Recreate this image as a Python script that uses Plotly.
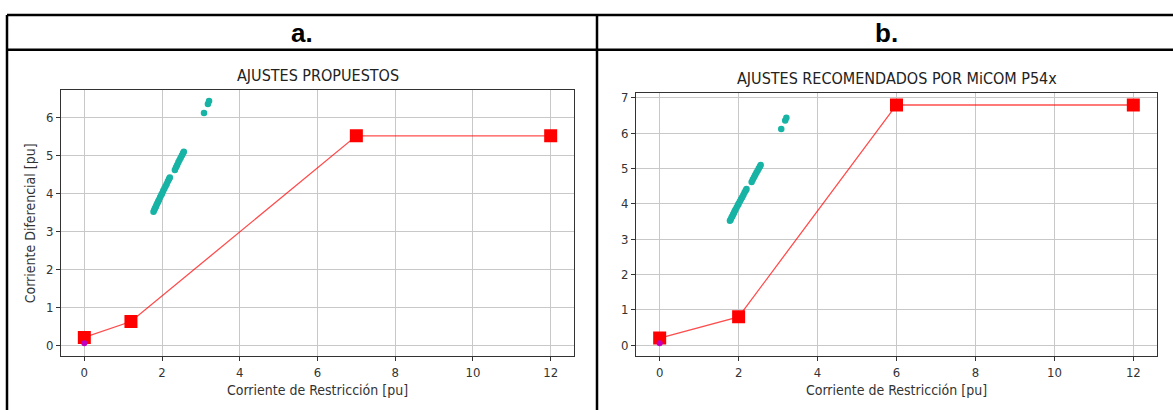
import plotly.graph_objects as go

W, H = 1173, 410

# ---- data ----
teal_x = [1.78, 1.80, 1.82, 1.84, 1.86, 1.88, 1.90, 1.92, 1.95, 1.98, 2.00, 2.03, 2.06, 2.09,
          2.12, 2.15, 2.18, 2.20,
          2.33, 2.36, 2.39, 2.42, 2.45, 2.48, 2.51, 2.54, 2.56,
          3.08, 3.18, 3.21]
teal_y = [3.52, 3.56, 3.61, 3.65, 3.70, 3.74, 3.79, 3.83, 3.90, 3.96, 4.00, 4.07, 4.13, 4.19,
          4.25, 4.32, 4.38, 4.42,
          4.62, 4.69, 4.75, 4.82, 4.88, 4.94, 5.00, 5.06, 5.10,
          6.12, 6.36, 6.44]
origin_x = [0]
origin_y = [0.05]

a_curve_x = [0, 1.2, 7, 12]
a_curve_y = [0.2, 0.62, 5.52, 5.52]
b_curve_x = [0, 2, 6, 12]
b_curve_y = [0.2, 0.8, 6.8, 6.8]

header_labels = ["a.", "b."]
titles = ["AJUSTES PROPUESTOS", "AJUSTES RECOMENDADOS POR MiCOM P54x"]
xlabel = "Corriente de Restricción [pu]"
ylabel = "Corriente Diferencial [pu]"
x_ticks = [0, 2, 4, 6, 8, 10, 12]

# ---- helpers ----
def px_x(p):
    return p / W

def px_y(p):
    return 1 - p / H

TEAL = "#17b3a5"
RED = "red"
LINE_RED = "rgba(255,0,0,0.7)"
PURPLE = "#bf00bf"
FONT = "DejaVu Sans Condensed, DejaVu Sans, sans-serif"
TXT = "#333333"

fig = go.Figure()

for i, (cx, cy) in enumerate([(a_curve_x, a_curve_y), (b_curve_x, b_curve_y)]):
    xa = "x" if i == 0 else "x2"
    ya = "y" if i == 0 else "y2"
    fig.add_trace(go.Scatter(x=teal_x, y=teal_y, mode="markers", xaxis=xa, yaxis=ya,
                             marker=dict(color=TEAL, size=6.5, line=dict(width=0)),
                             showlegend=False))
    fig.add_trace(go.Scatter(x=cx, y=cy, mode="lines+markers", xaxis=xa, yaxis=ya,
                             line=dict(color=LINE_RED, width=1.3),
                             marker=dict(symbol="square", color=RED, size=13, line=dict(width=0)),
                             showlegend=False))
    fig.add_trace(go.Scatter(x=origin_x, y=origin_y, mode="markers", xaxis=xa, yaxis=ya,
                             marker=dict(color=PURPLE, size=6, line=dict(width=0)),
                             showlegend=False))

axis_common = dict(
    showgrid=True, gridcolor="#c8c8c8", gridwidth=1,
    zeroline=False, showline=True, mirror=True, linecolor="#333333", linewidth=1,
    ticks="outside", ticklen=4, tickcolor="#333333",
    tickfont=dict(family=FONT, size=13, color=TXT),
)

fig.update_layout(
    width=W, height=H,
    margin=dict(l=0, r=0, t=0, b=0),
    paper_bgcolor="white", plot_bgcolor="white",
    xaxis=dict(domain=[px_x(61), px_x(574)], range=[-0.6, 12.6], tickvals=x_ticks,
               anchor="y",
               title=dict(text=xlabel, font=dict(family=FONT, size=14, color=TXT), standoff=6),
               **axis_common),
    yaxis=dict(domain=[px_y(356), px_y(88)], range=[-0.3, 6.72], dtick=1, anchor="x",
               title=dict(text=ylabel, font=dict(family=FONT, size=14, color=TXT), standoff=7),
               **axis_common),
    xaxis2=dict(domain=[px_x(636), px_x(1157)], range=[-0.6, 12.6], tickvals=x_ticks,
                anchor="y2",
                title=dict(text=xlabel, font=dict(family=FONT, size=14, color=TXT), standoff=6),
                **axis_common),
    yaxis2=dict(domain=[px_y(356), px_y(91)], range=[-0.32, 7.13], dtick=1, anchor="x2",
                **axis_common),
)

# table borders
line_style = dict(color="black", width=2.5)
shapes = [
    dict(type="line", xref="paper", yref="paper", x0=px_x(7), x1=1, y0=px_y(12), y1=px_y(12), line=line_style),
    dict(type="line", xref="paper", yref="paper", x0=px_x(7), x1=1, y0=px_y(47), y1=px_y(47), line=line_style),
    dict(type="line", xref="paper", yref="paper", x0=px_x(7), x1=px_x(7), y0=0, y1=px_y(12), line=line_style),
    dict(type="line", xref="paper", yref="paper", x0=px_x(597), x1=px_x(597), y0=0, y1=px_y(12), line=line_style),
]
fig.update_layout(shapes=shapes)

annotations = [
    dict(text=header_labels[0], x=px_x(302), y=px_y(30), xref="paper", yref="paper",
         showarrow=False, xanchor="center", yanchor="middle",
         font=dict(family="Liberation Sans, Arial", size=26, color="black", weight="bold")),
    dict(text=header_labels[1], x=px_x(886), y=px_y(30), xref="paper", yref="paper",
         showarrow=False, xanchor="center", yanchor="middle",
         font=dict(family="Liberation Sans, Arial", size=26, color="black", weight="bold")),
    dict(text=titles[0], x=px_x(317.5), y=px_y(73), xref="paper", yref="paper",
         showarrow=False, xanchor="center", yanchor="middle",
         font=dict(family=FONT, size=16, color="#222222")),
    dict(text=titles[1], x=px_x(896.5), y=px_y(76), xref="paper", yref="paper",
         showarrow=False, xanchor="center", yanchor="middle",
         font=dict(family=FONT, size=16, color="#222222")),
]
fig.update_layout(annotations=annotations)

fig.write_html("out.html", config={"displayModeBar": False},
               post_script="document.body.style.margin='0';document.body.style.overflow='hidden';")
